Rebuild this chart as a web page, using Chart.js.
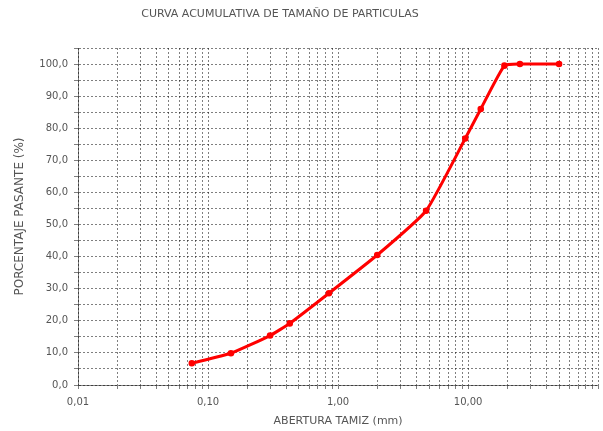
<!DOCTYPE html>
<html>
<head>
<meta charset="utf-8">
<script src="https://cdn.jsdelivr.net/npm/chart.js@4.4.0/dist/chart.umd.min.js"></script>
<style>
  html, body { margin: 0; padding: 0; background: #fff; }
</style>
</head>
<body>
<canvas id="curvaChart" width="603" height="431"></canvas>
<script>
// Abertura del tamiz (mm) y porcentaje que pasa
const aberturas = [0.075, 0.15, 0.3, 0.425, 0.85, 2, 4.75, 9.5, 12.5, 19, 25, 50];
const pasante = [6.8, 9.9, 15.4, 19.2, 28.6, 40.5, 54.3, 76.8, 86, 99.5, 100, 100];

// Eje X logaritmico: decadas con etiqueta y multiplos para la grilla
const decadas = [0.01, 0.1, 1, 10];
const etiquetasX = ["0,01", "0,10", "1,00", "10,00"];
const multiplos = [1, 2, 3, 4, 5, 6, 7, 8, 9];

// Eje Y: valores con etiqueta (la grilla va cada 5)
const valoresY = [0, 10, 20, 30, 40, 50, 60, 70, 80, 90, 100];
const etiquetasY = ["0,0", "10,0", "20,0", "30,0", "40,0", "50,0", "60,0", "70,0", "80,0", "90,0", "100,0"];

const titulo = "CURVA ACUMULATIVA DE TAMAÑO DE PARTICULAS";
const tituloX = "ABERTURA TAMIZ (mm)";
const tituloY = "PORCENTAJE PASANTE (%)";

const ticksX = decadas.flatMap(d => multiplos.map(m => +(d * m).toPrecision(3))).concat([100]);

const fuente = '"DejaVu Sans", sans-serif';
const gris = "#555";
const grilla = "rgba(0,0,0,0.5)";

const tituloGrafico = {
    id: "tituloGrafico",
    afterDraw(chart) {
        const c = chart.ctx;
        c.save();
        c.font = "11px " + fuente;
        c.fillStyle = gris;
        c.textAlign = "center";
        c.textBaseline = "middle";
        c.fillText(titulo, 280, 14);
        c.restore();
    }
};

const ctx = document.getElementById("curvaChart").getContext("2d");

const chart = new Chart(ctx, {
    type: "line",
    data: {
        datasets: [{
            data: aberturas.map((x, i) => ({ x: x, y: pasante[i] })),
            borderColor: "#ff0000",
            backgroundColor: "#ff0000",
            borderWidth: 3,
            pointRadius: 1.8,
            pointHoverRadius: 1.8,
            tension: 0.15,
            fill: false
        }]
    },
    options: {
        responsive: false,
        animation: false,
        layout: { padding: { top: 48, right: 0, bottom: 0, left: 0 } },
        plugins: {
            legend: { display: false },
            tooltip: { enabled: false },
            title: { display: false }
        },
        scales: {
            x: {
                type: "logarithmic",
                min: 0.01,
                max: 100,
                afterBuildTicks: axis => { axis.ticks = ticksX.map(v => ({ value: v })); },
                afterFit: axis => { axis.height = 46; axis.paddingRight = 0; },
                ticks: {
                    autoSkip: false,
                    maxRotation: 0,
                    padding: 7,
                    color: gris,
                    font: { family: fuente, size: 10 },
                    callback: value => {
                        const i = decadas.findIndex(d => Math.abs(d - value) < 1e-9);
                        return i >= 0 ? etiquetasX[i] : "";
                    }
                },
                grid: { color: grilla, lineWidth: 1, tickLength: 4 },
                border: { color: grilla, dash: [2, 2] },
                title: {
                    display: true,
                    text: tituloX,
                    color: gris,
                    font: { family: fuente, size: 11 },
                    padding: { top: 0, bottom: 3 }
                }
            },
            y: {
                type: "linear",
                min: 0,
                max: 105,
                afterFit: axis => { axis.width = 78; },
                ticks: {
                    stepSize: 5,
                    padding: 6,
                    color: gris,
                    font: { family: fuente, size: 10 },
                    callback: value => {
                        const i = valoresY.indexOf(value);
                        return i >= 0 ? etiquetasY[i] : "";
                    }
                },
                grid: { color: grilla, lineWidth: 1, tickLength: 4 },
                border: { color: grilla, dash: [2, 2] },
                title: {
                    display: true,
                    text: tituloY,
                    color: gris,
                    font: { family: fuente, size: 12 },
                    padding: { top: 13, bottom: 0 }
                }
            }
        }
    },
    plugins: [tituloGrafico]
});
</script>
</body>
</html>
